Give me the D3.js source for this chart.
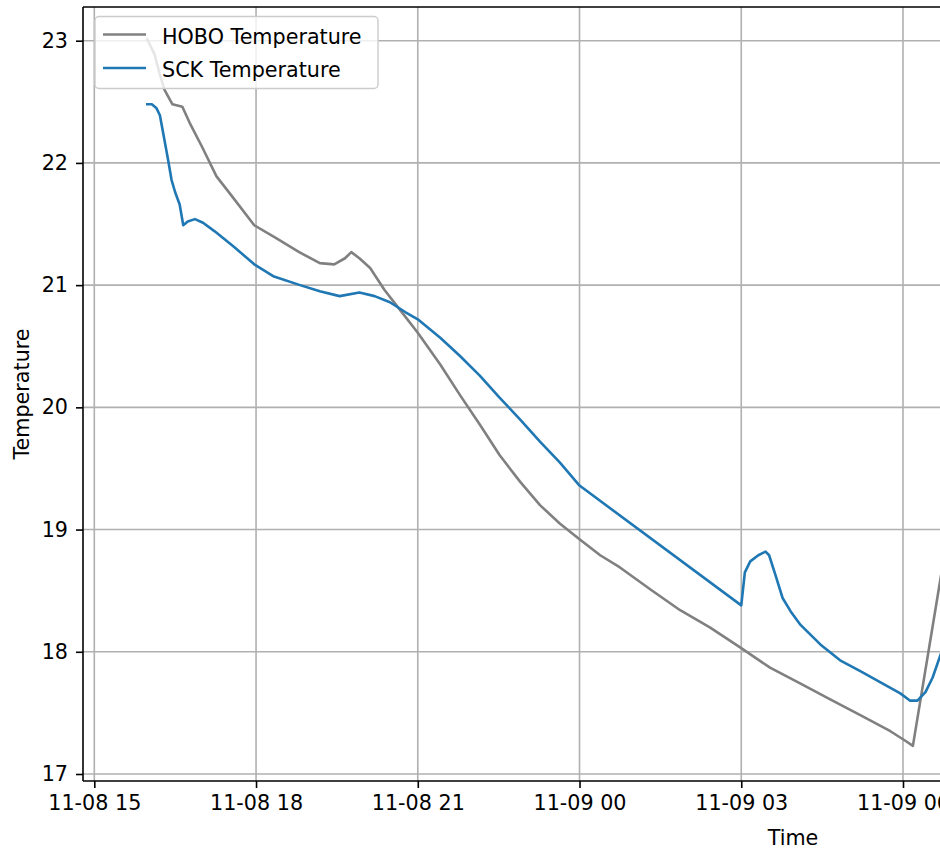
<!DOCTYPE html>
<html>
<head>
<meta charset="utf-8">
<script src="https://cdn.jsdelivr.net/npm/d3@7"></script>
<style>
  html, body { margin: 0; padding: 0; background: #fff; }
  svg { display: block; font-family: "DejaVu Sans", sans-serif; }
</style>
</head>
<body>
<svg id="chart" width="940" height="849"></svg>
<script>
// ---------------- data ----------------
const hoboTimes = [
  "2021-11-08 15:59","2021-11-08 16:07","2021-11-08 16:12","2021-11-08 16:18","2021-11-08 16:27",
  "2021-11-08 16:38","2021-11-08 16:46","2021-11-08 17:00","2021-11-08 17:16","2021-11-08 17:34",
  "2021-11-08 17:58","2021-11-08 18:21","2021-11-08 18:48","2021-11-08 19:11","2021-11-08 19:27",
  "2021-11-08 19:39","2021-11-08 19:46","2021-11-08 19:55","2021-11-08 20:07","2021-11-08 20:23",
  "2021-11-08 20:40","2021-11-08 21:00","2021-11-08 21:25","2021-11-08 21:47","2021-11-08 22:09",
  "2021-11-08 22:31","2021-11-08 22:54","2021-11-08 23:16","2021-11-08 23:38","2021-11-09 00:00",
  "2021-11-09 00:23","2021-11-09 00:45","2021-11-09 01:19","2021-11-09 01:52","2021-11-09 02:25",
  "2021-11-09 03:00","2021-11-09 03:32","2021-11-09 04:06","2021-11-09 04:39","2021-11-09 05:13",
  "2021-11-09 05:46","2021-11-09 06:03","2021-11-09 06:11","2021-11-09 06:42","2021-11-09 06:53"
];
const hoboValues = [
  23.01, 22.89, 22.75, 22.60, 22.48,
  22.46, 22.33, 22.13, 21.89, 21.72,
  21.49, 21.39, 21.27, 21.18, 21.17,
  21.22, 21.27, 21.22, 21.14, 20.96,
  20.80, 20.61, 20.35, 20.10, 19.86,
  19.61, 19.39, 19.20, 19.05, 18.92,
  18.79, 18.69, 18.51, 18.34, 18.20,
  18.03, 17.87, 17.74, 17.61, 17.48,
  17.35, 17.27, 17.23, 18.61, 19.08
];

const sckTimes = [
  "2021-11-08 15:59","2021-11-08 16:04","2021-11-08 16:09","2021-11-08 16:13","2021-11-08 16:17",
  "2021-11-08 16:22","2021-11-08 16:26","2021-11-08 16:30","2021-11-08 16:35","2021-11-08 16:39",
  "2021-11-08 16:44","2021-11-08 16:52","2021-11-08 17:01","2021-11-08 17:14","2021-11-08 17:36",
  "2021-11-08 17:58","2021-11-08 18:20","2021-11-08 18:49","2021-11-08 19:11","2021-11-08 19:33",
  "2021-11-08 19:55","2021-11-08 20:12","2021-11-08 20:29","2021-11-08 20:46","2021-11-08 21:00",
  "2021-11-08 21:25","2021-11-08 21:47","2021-11-08 22:09","2021-11-08 22:31","2021-11-08 22:54",
  "2021-11-08 23:16","2021-11-08 23:38","2021-11-09 00:00","2021-11-09 03:00","2021-11-09 03:04",
  "2021-11-09 03:10","2021-11-09 03:19","2021-11-09 03:27","2021-11-09 03:31","2021-11-09 03:38",
  "2021-11-09 03:46","2021-11-09 03:55","2021-11-09 04:06","2021-11-09 04:28","2021-11-09 04:50",
  "2021-11-09 05:13","2021-11-09 05:35","2021-11-09 05:57","2021-11-09 06:08","2021-11-09 06:16",
  "2021-11-09 06:25","2021-11-09 06:33","2021-11-09 06:42","2021-11-09 06:53"
];
const sckValues = [
  22.48, 22.48, 22.45, 22.39, 22.23,
  22.03, 21.86, 21.76, 21.66, 21.49,
  21.52, 21.54, 21.51, 21.44, 21.31,
  21.17, 21.07, 21.00, 20.95, 20.91,
  20.94, 20.91, 20.86, 20.78, 20.72,
  20.57, 20.42, 20.26, 20.08, 19.90,
  19.72, 19.55, 19.36, 18.38, 18.65,
  18.74, 18.79, 18.82, 18.79, 18.63,
  18.44, 18.33, 18.22, 18.06, 17.93,
  17.84, 17.75, 17.66, 17.60, 17.60,
  17.67, 17.79, 17.98, 18.18
];

const seriesNames = ["HOBO Temperature", "SCK Temperature"];
const seriesColors = ["#808080", "#1f77b4"];

const xTickTimes = ["2021-11-08 15:00","2021-11-08 18:00","2021-11-08 21:00",
                    "2021-11-09 00:00","2021-11-09 03:00","2021-11-09 06:00"];
const yTicks = [17, 18, 19, 20, 21, 22, 23];
const xLabel = "Time";
const yLabel = "Temperature";

// ---------------- layout ----------------
const parse = d3.timeParse("%Y-%m-%d %H:%M");
const fmt = d3.timeFormat("%m-%d %H");
const FS = 20.7;

const plotLeft = 83, plotTop = 7, plotBottom = 781, plotRight = 1503;

const x = d3.scaleTime()
  .domain([parse(xTickTimes[0]), parse(xTickTimes[5])])
  .range([94.3, 903]);
const y = d3.scaleLinear()
  .domain([17, 23])
  .range([774, 40.7]);

const svg = d3.select("#chart");

svg.append("defs").append("clipPath").attr("id", "clip")
  .append("rect")
  .attr("x", plotLeft).attr("y", plotTop)
  .attr("width", plotRight - plotLeft).attr("height", plotBottom - plotTop);

// grid
const grid = svg.append("g").attr("clip-path", "url(#clip)");
grid.selectAll("line.gx").data(xTickTimes.map(parse)).join("line")
  .attr("x1", d => x(d)).attr("x2", d => x(d))
  .attr("y1", plotTop).attr("y2", plotBottom)
  .attr("stroke", "#b0b0b0").attr("stroke-width", 1.6);
grid.selectAll("line.gy").data(yTicks).join("line")
  .attr("x1", plotLeft).attr("x2", plotRight)
  .attr("y1", d => y(d)).attr("y2", d => y(d))
  .attr("stroke", "#b0b0b0").attr("stroke-width", 1.6);

// lines
const line = d3.line().x(d => x(d.t)).y(d => y(d.v));
const hobo = hoboTimes.map((t, i) => ({ t: parse(t), v: hoboValues[i] }));
const sck = sckTimes.map((t, i) => ({ t: parse(t), v: sckValues[i] }));

const lines = svg.append("g").attr("clip-path", "url(#clip)");
[hobo, sck].forEach((data, i) => {
  lines.append("path").datum(data)
    .attr("d", line)
    .attr("fill", "none")
    .attr("stroke", seriesColors[i])
    .attr("stroke-width", 2.6)
    .attr("stroke-linejoin", "round")
    .attr("stroke-linecap", "square");
});

// axes
const xAxis = d3.axisBottom(x)
  .tickValues(xTickTimes.map(parse))
  .tickFormat(fmt)
  .tickSize(7).tickPadding(7);
const gx = svg.append("g").attr("transform", `translate(0,${plotBottom})`).call(xAxis);

const yAxis = d3.axisLeft(y)
  .tickValues(yTicks)
  .tickFormat(d3.format("d"))
  .tickSize(7).tickPadding(8);
const gy = svg.append("g").attr("transform", `translate(${plotLeft},0)`).call(yAxis);

[gx, gy].forEach(g => {
  g.select(".domain").remove();
  g.selectAll(".tick line").attr("stroke", "#000").attr("stroke-width", 1.6);
  g.selectAll(".tick text")
    .attr("fill", "#000")
    .style("font-family", "'DejaVu Sans', sans-serif")
    .style("font-size", FS + "px");
});

// spines
const spines = svg.append("g").attr("stroke", "#000").attr("stroke-width", 1.6).attr("fill", "none");
spines.append("line").attr("x1", plotLeft).attr("x2", plotLeft).attr("y1", plotTop).attr("y2", plotBottom);
spines.append("line").attr("x1", plotLeft).attr("x2", plotRight).attr("y1", plotBottom).attr("y2", plotBottom);
spines.append("line").attr("x1", plotLeft).attr("x2", plotRight).attr("y1", plotTop).attr("y2", plotTop);

// axis labels
svg.append("text")
  .attr("x", (plotLeft + plotRight) / 2).attr("y", 845)
  .attr("text-anchor", "middle")
  .style("font-size", FS + "px")
  .text(xLabel);
svg.append("text")
  .attr("transform", `translate(29,${(plotTop + plotBottom) / 2}) rotate(-90)`)
  .attr("text-anchor", "middle")
  .style("font-size", FS + "px")
  .text(yLabel);

// legend
const lg = svg.append("g");
lg.append("rect")
  .attr("x", 95).attr("y", 16.5).attr("width", 283).attr("height", 72)
  .attr("rx", 4).attr("ry", 4)
  .attr("fill", "#fff").attr("fill-opacity", 0.8)
  .attr("stroke", "#cccccc").attr("stroke-width", 1.4);
seriesNames.forEach((name, i) => {
  const cy = 34.5 + i * 33.5;
  lg.append("line")
    .attr("x1", 103).attr("x2", 146).attr("y1", cy).attr("y2", cy)
    .attr("stroke", seriesColors[i]).attr("stroke-width", 2.6);
  lg.append("text")
    .attr("x", 162).attr("y", cy + 9)
    .style("font-size", FS + "px")
    .attr("fill", "#000")
    .text(name);
});
</script>
</body>
</html>
